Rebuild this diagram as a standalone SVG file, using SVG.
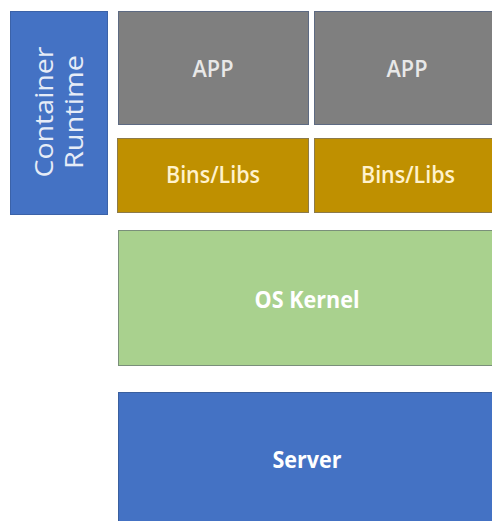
<svg xmlns="http://www.w3.org/2000/svg" width="492" height="521" viewBox="0 0 492 521">
<style>
.box{stroke-width:1}
.t{font-family:"Open Sans","Liberation Sans",sans-serif;text-anchor:middle}
</style>
<rect width="492" height="521" fill="#ffffff"/>
<g id="runtime">
<rect class="box" x="10.5" y="11.5" width="97" height="203" fill="#4472C4" stroke="#3b62a8"/>
<g transform="translate(59,112) rotate(-90)">
<text class="t" x="0" y="-6" font-size="25" fill="#e6ecf7" textLength="131" lengthAdjust="spacingAndGlyphs">Container</text>
<text class="t" x="0" y="24" font-size="25" fill="#e6ecf7" textLength="114" lengthAdjust="spacingAndGlyphs">Runtime</text>
</g>
</g>
<g id="app1">
<rect class="box" x="118.5" y="11.5" width="190" height="113" fill="#7F7F7F" stroke="#5d6a82"/>
<text class="t" x="213" y="77" font-size="23" font-weight="600" fill="#e8e8e8" textLength="41" lengthAdjust="spacingAndGlyphs">APP</text>
</g>
<g id="app2">
<rect class="box" x="314.5" y="11.5" width="180" height="113" fill="#7F7F7F" stroke="#5d6a82"/>
<text class="t" x="407" y="77" font-size="23" font-weight="600" fill="#e8e8e8" textLength="41" lengthAdjust="spacingAndGlyphs">APP</text>
</g>
<g id="bins1">
<rect class="box" x="117.5" y="138.5" width="191" height="74" fill="#BF9000" stroke="#8c7a4a"/>
<text class="t" x="213" y="183" font-size="24" font-weight="600" fill="#fff2cc" textLength="94" lengthAdjust="spacingAndGlyphs">Bins/Libs</text>
</g>
<g id="bins2">
<rect class="box" x="314.5" y="138.5" width="180" height="74" fill="#BF9000" stroke="#8c7a4a"/>
<text class="t" x="408" y="183" font-size="24" font-weight="600" fill="#fff2cc" textLength="94" lengthAdjust="spacingAndGlyphs">Bins/Libs</text>
</g>
<g id="kernel">
<rect class="box" x="118.5" y="230.5" width="376" height="135" fill="#A9D18E" stroke="#7a8f7a"/>
<text class="t" x="307" y="308" font-size="24" font-weight="bold" fill="#ffffff" textLength="105" lengthAdjust="spacingAndGlyphs">OS Kernel</text>
</g>
<g id="server">
<rect class="box" x="118.5" y="392.5" width="376" height="135" fill="#4472C4" stroke="#3a5f9e"/>
<text class="t" x="307" y="468" font-size="24" font-weight="bold" fill="#ffffff" textLength="69" lengthAdjust="spacingAndGlyphs">Server</text>
</g>
<g id="connectors"/>
</svg>
